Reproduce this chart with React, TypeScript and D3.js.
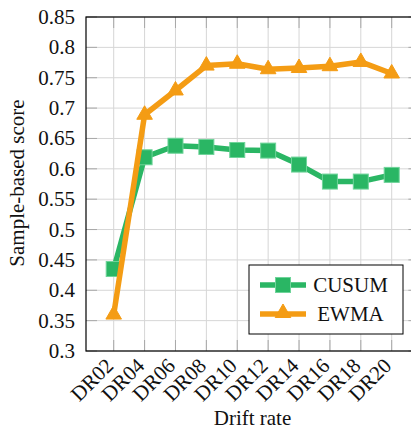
import React from 'react';
import * as d3 from 'd3';

const categories = ['DR02', 'DR04', 'DR06', 'DR08', 'DR10', 'DR12', 'DR14', 'DR16', 'DR18', 'DR20'];
const cusum = [0.435, 0.619, 0.638, 0.636, 0.631, 0.630, 0.607, 0.579, 0.579, 0.590];
const ewma = [0.36, 0.689, 0.729, 0.770, 0.773, 0.764, 0.766, 0.769, 0.776, 0.757];
const yTicks = [0.3, 0.35, 0.4, 0.45, 0.5, 0.55, 0.6, 0.65, 0.7, 0.75, 0.8, 0.85];

const GREEN = '#2ab664';
const ORANGE = '#f49c14';
const SERIF = 'Liberation Serif';

const W = 419;
const H = 430;
const left = 86;
const right = 419.4;
const top = 17;
const bottom = 351;
const tickLen = 11;

const App = () => {
  const x = d3.scalePoint().domain(categories).range([113.7, 391.7]);
  const y = d3.scaleLinear().domain([0.3, 0.85]).range([bottom, top]);

  const line = d3
    .line<number>()
    .x((_, i) => x(categories[i]) as number)
    .y((d) => y(d));

  const square = (cx: number, cy: number, key: string) => (
    <rect key={key} x={cx - 7.5} y={cy - 7.5} width={15} height={15} fill={GREEN} stroke="#6fd49a" strokeWidth={1} />
  );
  const triangle = (cx: number, cy: number, key: string) => {
    const r = 9;
    const pts = [
      [cx, cy - r],
      [cx + r * 0.866, cy + r * 0.5],
      [cx - r * 0.866, cy + r * 0.5],
    ]
      .map((p) => p.join(','))
      .join(' ');
    return <polygon key={key} points={pts} fill={ORANGE} stroke={ORANGE} strokeWidth={1} />;
  };

  return (
    <div style={{ margin: '-8px' }}>
      <svg width={W} height={H} fontFamily={SERIF} fontSize={21}>
        <rect width={W} height={H} fill="white" />
        {/* grid */}
        {categories.map((c) => (
          <line key={'gx' + c} x1={x(c)} x2={x(c)} y1={top} y2={bottom} stroke="#d6d6d6" strokeWidth={1} />
        ))}
        {yTicks.map((t) => (
          <line key={'gy' + t} x1={left} x2={right} y1={y(t)} y2={y(t)} stroke="#d6d6d6" strokeWidth={1} />
        ))}
        {/* ticks */}
        {categories.map((c) => (
          <g key={'tx' + c} stroke="#a8a8a8" strokeWidth={1}>
            <line x1={x(c)} x2={x(c)} y1={bottom} y2={bottom - tickLen} />
            <line x1={x(c)} x2={x(c)} y1={top} y2={top + tickLen} />
          </g>
        ))}
        {yTicks.map((t) => (
          <g key={'ty' + t} stroke="#a8a8a8" strokeWidth={1}>
            <line x1={left} x2={left + tickLen} y1={y(t)} y2={y(t)} />
            <line x1={right} x2={right - tickLen} y1={y(t)} y2={y(t)} />
          </g>
        ))}
        {/* axes box */}
        <rect x={left} y={top} width={right - left} height={bottom - top} fill="none" stroke="black" strokeWidth={1.2} />

        {/* y tick labels */}
        {yTicks.map((t) => (
          <text key={'yl' + t} x={75} y={y(t) + 7} textAnchor="end" fontFamily={SERIF} fill="#111">
            {String(+t.toFixed(2))}
          </text>
        ))}
        {/* x tick labels */}
        {categories.map((c) => (
          <text
            key={'xl' + c}
            transform={`translate(${(x(c) as number) + 1},${bottom + 16}) rotate(-45)`}
            textAnchor="end"
            fontFamily={SERIF}
            fill="#111"
          >
            {c}
          </text>
        ))}

        {/* series */}
        <path d={line(cusum) || ''} fill="none" stroke={GREEN} strokeWidth={5.5} strokeLinejoin="round" />
        {cusum.map((v, i) => square(x(categories[i]) as number, y(v), 'sq' + i))}
        <path d={line(ewma) || ''} fill="none" stroke={ORANGE} strokeWidth={5.5} strokeLinejoin="round" />
        {ewma.map((v, i) => triangle(x(categories[i]) as number, y(v), 'tr' + i))}

        {/* axis titles */}
        <text x={252.5} y={425} textAnchor="middle" fontFamily={SERIF} fill="#111">
          Drift rate
        </text>
        <text transform={`translate(24,183) rotate(-90)`} textAnchor="middle" fontFamily={SERIF} fill="#111">
          Sample-based score
        </text>

        {/* legend */}
        <rect x={249} y={265} width={154} height={69} fill="white" stroke="black" strokeWidth={1} />
        <line x1={260} x2={306} y1={285} y2={285} stroke={GREEN} strokeWidth={5.5} />
        {square(283, 285, 'lsq')}
        <text x={350.5} y={292} textAnchor="middle" fontFamily={SERIF} fill="#111">
          CUSUM
        </text>
        <line x1={260} x2={306} y1={314} y2={314} stroke={ORANGE} strokeWidth={5.5} />
        {triangle(283, 313, 'ltr')}
        <text x={350.5} y={321} textAnchor="middle" fontFamily={SERIF} fill="#111">
          EWMA
        </text>
      </svg>
    </div>
  );
};

export default App;
